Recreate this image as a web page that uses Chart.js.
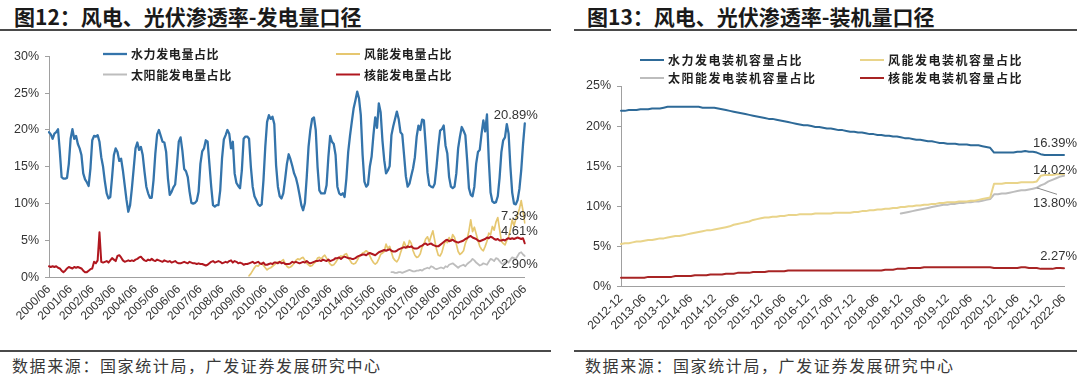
<!DOCTYPE html>
<html><head><meta charset="utf-8">
<script src="https://cdn.jsdelivr.net/npm/chart.js@4.4.1/dist/chart.umd.min.js"></script>
<style>
html,body{margin:0;padding:0;background:#fff;}
body{width:1080px;height:377px;position:relative;overflow:hidden;font-family:"Noto Sans CJK SC","Noto Sans",sans-serif;}
.title{position:absolute;top:2px;font-weight:bold;font-size:21px;line-height:28px;color:#1a1a1a;white-space:nowrap;}
.rule{position:absolute;height:2px;background:#4a4a4a;}
.src{position:absolute;top:355px;font-size:16px;line-height:20px;color:#383838;letter-spacing:1.6px;white-space:nowrap;}
canvas{position:absolute;top:36px;}
</style></head>
<body>
<div class="title" style="left:14px">图12：风电、光伏渗透率-发电量口径</div>
<div class="title" style="left:587px">图13：风电、光伏渗透率-装机量口径</div>
<div class="rule" style="left:0;width:551px;top:29px"></div>
<div class="rule" style="left:574px;width:503px;top:29px"></div>
<canvas id="c1" width="540" height="314" style="left:0"></canvas>
<canvas id="c2" width="540" height="314" style="left:540px"></canvas>
<div class="rule" style="left:0;width:551px;top:350px"></div>
<div class="rule" style="left:574px;width:503px;top:350px"></div>
<div class="src" style="left:12px">数据来源：国家统计局，广发证券发展研究中心</div>
<div class="src" style="left:585px">数据来源：国家统计局，广发证券发展研究中心</div>
<script>
// ---------------- Figure 12 data (monthly, 2000/06 - 2022/06) ----------------
const genStart = [2000, 6];
const genCount = 265;
const genTickLabels = ['2000/06','2001/06','2002/06','2003/06','2004/06','2005/06','2006/06','2007/06','2008/06','2009/06','2010/06','2011/06','2012/06','2013/06','2014/06','2015/06','2016/06','2017/06','2018/06','2019/06','2020/06','2021/06','2022/06'];
const genNames = ['水力发电量占比','风能发电量占比','太阳能发电量占比','核能发电量占比'];
const hydroGen = [
19.7,19.4,18.8,19.5,19.7,20.1,17.1,13.6,13.4,13.4,13.5,15.4,
18.8,20.1,18.8,19.2,18.1,17.5,16.6,14.1,13.3,12.9,12.4,14.8,
18.6,19.2,19.1,19.3,18.4,16.3,15.0,13.0,11.4,10.7,10.9,13.6,
16.6,17.5,17.0,15.8,16.1,14.5,12.5,10.5,8.9,9.8,12.1,14.8,
17.5,18.3,17.3,17.7,16.6,14.3,12.3,11.4,10.8,10.8,13.2,16.8,
19.4,20.0,19.2,18.4,18.3,17.0,13.4,11.2,11.6,12.2,12.6,15.3,
18.4,19.0,17.2,14.7,14.4,13.6,11.6,10.1,10.0,10.1,10.4,11.6,
15.4,17.1,17.5,18.6,18.4,15.4,12.3,9.8,9.6,9.8,9.8,11.8,
16.1,18.7,19.3,20.0,19.5,17.5,18.4,14.1,12.8,12.4,12.1,14.5,
18.8,19.1,19.1,18.8,15.0,12.3,11.0,10.5,9.9,9.7,9.9,13.2,
17.7,21.1,22.0,21.5,21.8,20.8,15.2,12.3,11.0,10.7,11.4,13.3,
15.4,16.7,16.0,15.1,14.1,13.5,12.5,11.2,9.8,9.1,10.1,13.6,
17.7,20.0,21.5,21.7,20.0,15.0,11.8,11.4,11.4,11.4,12.5,16.3,
19.2,18.4,18.1,16.6,12.3,11.4,11.2,11.4,10.9,13.4,17.0,19.2,
21.1,22.9,24.0,25.2,24.3,22.0,16.6,13.0,12.3,12.6,15.0,16.4,
19.3,21.7,20.3,23.6,22.4,18.6,15.9,14.1,14.5,15.1,19.3,20.5,
21.5,22.5,21.5,19.7,19.4,16.6,13.7,12.3,12.7,13.8,14.8,16.3,
19.1,20.6,20.0,21.4,21.3,17.9,14.2,12.5,12.3,12.2,12.7,15.0,
17.7,19.9,20.1,20.6,17.9,16.8,13.6,12.3,12.1,12.3,14.1,17.5,
19.1,20.4,19.9,19.3,15.9,12.1,11.2,11.0,12.3,15.4,17.0,17.3,
19.5,21.3,19.8,22.1,16.0,11.5,10.3,10.1,10.2,11.0,13.5,17.0,
18.6,19.0,20.8,19.5,15.0,11.5,10.0,9.9,10.5,12.0,14.5,18.0,20.89];
const nuclearGen = [
1.5,1.4,1.5,1.4,1.5,1.3,1.2,0.9,0.7,0.9,1.2,1.4,
1.3,1.2,1.4,1.3,1.4,1.3,1.2,0.9,0.7,0.7,0.9,1.1,
1.2,2.1,1.9,2.3,6.1,2.1,2.0,2.1,2.2,2.0,2.3,2.6,
2.4,2.2,2.9,3.0,2.7,2.3,2.1,2.2,2.3,2.2,2.3,2.2,
2.4,2.5,2.7,2.8,2.5,2.3,2.2,2.4,2.3,2.5,2.3,2.2,
2.4,2.3,2.2,2.1,2.3,2.2,2.1,2.2,2.0,2.1,2.2,2.0,
1.9,1.9,2.0,2.1,2.0,1.9,2.1,2.0,1.9,1.9,1.8,1.9,
1.8,1.8,1.7,1.6,1.7,1.9,2.1,2.2,2.0,2.1,2.2,2.1,
1.9,2.0,2.1,2.0,2.2,2.3,2.0,2.2,2.1,1.9,2.0,1.9,
1.7,1.8,1.8,1.9,2.0,2.1,1.9,2.0,2.1,1.9,1.8,2.0,
1.7,1.7,1.8,1.9,1.8,2.0,2.0,1.9,2.1,1.9,2.0,1.8,
1.8,1.8,1.9,2.1,2.0,2.1,2.0,1.9,2.0,2.1,2.0,2.2,
2.0,1.9,2.0,2.1,2.2,2.2,2.3,2.2,2.4,2.3,2.2,2.4,
2.2,2.3,2.4,2.6,2.6,2.7,2.5,2.7,2.8,2.7,2.6,2.6,
2.5,2.5,2.6,2.8,2.9,3.0,3.1,3.1,3.0,3.2,3.3,3.2,
3.1,3.0,3.2,3.4,3.5,3.6,3.7,3.6,3.7,3.8,3.6,3.5,
3.5,3.6,3.8,3.9,4.0,4.1,4.0,4.2,4.1,4.2,4.0,3.9,
3.9,4.0,4.2,4.3,4.5,4.6,4.4,4.5,4.6,4.4,4.3,4.2,
4.2,4.4,4.6,4.8,5.0,5.1,4.9,5.0,5.1,4.9,4.8,4.7,
4.8,4.9,5.0,5.2,5.3,5.5,5.6,5.4,5.3,5.2,5.0,4.9,
5.0,5.1,5.2,5.4,5.3,5.5,5.4,5.2,5.1,5.2,5.0,5.0,
5.1,5.0,5.2,5.3,5.2,5.3,5.2,5.3,5.4,5.3,5.2,5.3,4.61];
const windGenStart = 111;   // index of first wind value (2009/09)
const windGen = [
0.2,0.5,0.9,1.3,1.6,1.5,1.8,1.9,1.6,
1.3,1.0,1.2,1.3,1.5,1.7,1.9,2.1,2.0,2.2,2.4,1.9,
1.5,1.3,1.4,1.6,1.9,2.3,2.5,2.4,2.6,2.7,2.3,1.9,
1.7,1.5,1.6,1.9,2.1,2.6,2.7,2.5,2.8,3.0,2.6,2.2,
1.8,1.6,1.7,2.0,2.4,2.7,2.9,2.8,3.1,3.2,2.7,2.3,
1.9,1.8,1.9,2.3,2.8,3.0,3.3,3.4,3.6,3.4,2.9,2.4,
2.0,1.8,2.0,2.5,3.1,3.3,3.5,4.5,3.9,4.2,3.4,2.6,
2.3,2.1,2.5,3.3,4.0,4.8,4.2,4.0,5.0,4.6,3.6,3.0,
2.7,2.8,3.2,4.1,4.5,5.2,5.5,4.8,5.6,6.3,5.0,3.8,
3.0,2.9,3.4,4.3,5.0,4.7,5.4,4.9,5.8,5.4,4.5,3.5,
3.1,3.3,3.6,4.6,5.2,6.3,7.8,6.2,6.8,5.9,5.0,4.2,
3.8,3.6,4.2,4.9,6.0,5.8,6.9,6.4,7.5,8.1,6.5,4.9,
4.6,4.4,5.0,5.5,6.5,7.8,7.0,7.9,8.5,9.3,10.4,9.0,7.39];
const solarGenStart = 190;  // index of first solar value (2016/04)
const solarGen = [
0.7,0.7,0.6,0.6,0.7,0.7,0.6,0.7,0.8,0.9,1.0,0.9,
0.8,0.8,0.9,0.9,1.0,0.9,1.1,1.2,1.3,1.2,1.5,1.4,
1.2,1.1,1.2,1.3,1.3,1.2,1.5,1.4,1.7,1.8,1.9,1.7,
1.5,1.3,1.5,1.6,1.7,1.5,1.8,2.0,2.2,2.5,2.3,2.0,
1.8,1.6,1.7,1.9,1.8,1.7,2.1,2.5,2.4,2.2,2.6,2.5,
2.2,1.9,1.8,2.0,2.2,2.0,2.4,2.7,2.6,2.5,2.9,3.3,3.4,3.1,2.90];

// ---------------- Figure 13 data (monthly, 2012-12 - 2022-06) ----------------
const capStart = [2012, 12];
const capCount = 115;
const capTickLabels = ['2012-12','2013-06','2013-12','2014-06','2014-12','2015-06','2015-12','2016-06','2016-12','2017-06','2017-12','2018-06','2018-12','2019-06','2019-12','2020-06','2020-12','2021-06','2021-12','2022-06'];
const capNames = ['水力发电装机容量占比','风能发电装机容量占比','太阳能发电装机容量占比','核能发电装机容量占比'];
const hydroCap = [
21.9,21.9,22.0,22.0,22.0,22.1,22.1,22.1,22.2,22.2,22.2,22.3,
22.4,22.4,22.4,22.4,22.4,22.4,22.4,22.4,22.4,22.3,22.3,22.3,
22.3,22.2,22.1,22.0,21.9,21.8,21.7,21.6,21.5,21.4,21.3,21.2,
21.1,21.0,20.9,20.9,20.8,20.7,20.6,20.5,20.4,20.3,20.2,20.1,
20.1,20.0,19.9,19.9,19.8,19.7,19.7,19.6,19.5,19.5,19.4,19.3,
19.3,19.2,19.2,19.1,19.0,19.0,18.9,18.9,18.8,18.8,18.7,18.7,
18.6,18.5,18.5,18.4,18.3,18.3,18.2,18.1,18.1,18.0,17.9,17.9,
17.8,17.8,17.8,17.7,17.7,17.7,17.6,17.6,17.6,17.5,17.4,17.3,
16.7,16.7,16.7,16.7,16.7,16.7,16.8,16.8,16.9,16.8,16.8,16.7,
16.5,16.4,16.4,16.4,16.4,16.4,16.39];
const windCap = [
5.3,5.4,5.4,5.5,5.6,5.6,5.7,5.8,5.8,5.9,6.0,6.0,
6.1,6.2,6.3,6.3,6.4,6.5,6.6,6.7,6.8,6.9,7.0,7.0,
7.1,7.2,7.3,7.4,7.5,7.7,7.8,7.9,8.0,8.1,8.3,8.4,
8.5,8.6,8.6,8.7,8.7,8.8,8.8,8.9,8.9,8.9,9.0,9.0,
9.0,9.0,9.1,9.1,9.1,9.1,9.1,9.2,9.2,9.2,9.2,9.2,
9.3,9.3,9.4,9.4,9.5,9.5,9.6,9.6,9.7,9.7,9.8,9.8,
9.9,9.9,10.0,10.0,10.1,10.1,10.2,10.2,10.3,10.3,10.4,10.4,
10.5,10.5,10.5,10.6,10.6,10.6,10.7,10.7,10.8,10.9,11.0,11.1,
12.8,12.8,12.8,12.9,12.9,12.9,12.9,13.0,13.0,13.0,13.0,13.1,
13.8,13.9,13.9,13.9,14.0,14.0,14.02];
const solarCapStart = 72;   // 2018-12
const solarCap = [
9.1,9.2,9.3,9.4,9.5,9.6,9.7,9.8,9.9,10.0,10.1,10.2,
10.2,10.3,10.3,10.4,10.4,10.5,10.5,10.6,10.6,10.7,10.8,10.9,
11.5,11.5,11.6,11.6,11.7,11.8,11.9,12.0,12.0,12.1,12.2,12.3,
12.6,12.8,13.1,13.3,13.5,13.7,13.80];
const nuclearCap = [
1.1,1.1,1.1,1.1,1.1,1.1,1.1,1.2,1.2,1.2,1.2,1.2,
1.2,1.2,1.3,1.3,1.3,1.3,1.3,1.4,1.4,1.4,1.4,1.5,
1.5,1.5,1.5,1.6,1.6,1.6,1.7,1.7,1.7,1.7,1.8,1.8,
1.8,1.8,1.9,1.9,1.9,1.9,1.9,2.0,2.0,2.0,2.0,2.0,
2.0,2.0,2.0,2.0,2.0,2.0,2.0,2.0,2.0,2.0,2.0,2.0,
2.0,2.0,2.0,2.0,2.0,2.0,2.0,2.0,2.1,2.1,2.1,2.2,
2.2,2.2,2.3,2.3,2.3,2.3,2.4,2.4,2.4,2.4,2.4,2.4,
2.4,2.4,2.4,2.4,2.4,2.4,2.4,2.4,2.4,2.4,2.4,2.4,
2.3,2.3,2.3,2.3,2.3,2.3,2.3,2.4,2.4,2.3,2.3,2.3,
2.2,2.2,2.2,2.2,2.3,2.3,2.27];

// ---------------- helpers ----------------
function monthCats(start, n, sep) {
  const out = []; let y = start[0], m = start[1];
  for (let i = 0; i < n; i++) {
    out.push(y + sep + (m < 10 ? '0' + m : '' + m));
    m++; if (m > 12) { m = 1; y++; }
  }
  return out;
}
function padFront(arr, start) { return new Array(start).fill(null).concat(arr); }

const latin = '"Liberation Sans", Arial, sans-serif';
Chart.defaults.font.family = latin;
Chart.defaults.color = '#333';

const legendPlugin = {
  id: 'boxLegend',
  afterDraw(chart, args, o) {
    const ctx = chart.ctx; ctx.save();
    ctx.font = o.font; ctx.letterSpacing = o.spacing;
    ctx.textBaseline = 'middle'; ctx.textAlign = 'left';
    o.items.forEach(it => {
      const ds = chart.data.datasets[it.ds];
      ctx.strokeStyle = ds.borderColor; ctx.lineWidth = Math.max(ds.borderWidth, 2);
      ctx.beginPath(); ctx.moveTo(it.x, it.y); ctx.lineTo(it.x + o.lineLen, it.y); ctx.stroke();
      ctx.fillStyle = '#1e1e1e';
      ctx.fillText(ds.label, it.x + o.lineLen + 4, it.y + 0.5);
    });
    ctx.restore();
  }
};
const endLabelPlugin = {
  id: 'endLabels',
  afterDatasetsDraw(chart, args, o) {
    const ctx = chart.ctx; ctx.save();
    ctx.font = o.font; ctx.fillStyle = '#333'; ctx.textAlign = 'right'; ctx.textBaseline = 'middle';
    o.items.forEach(it => {
      const pts = chart.getDatasetMeta(it.ds).data;
      const data = chart.data.datasets[it.ds].data;
      const p = pts[pts.length - 1];
      const tx = p.x + it.dx, ty = p.y + it.dy;
      ctx.fillText(data[data.length - 1].toFixed(2) + '%', tx, ty);
      if (it.leader != null) {
        const q = pts[it.leader];
        ctx.strokeStyle = '#8a8a8a'; ctx.lineWidth = 1;
        ctx.beginPath(); ctx.moveTo(q.x, q.y); ctx.lineTo(tx - 20, ty - 9); ctx.stroke();
      }
    });
    ctx.restore();
  }
};

function lineDs(label, data, color, width, order) {
  return { label, data, borderColor: color, backgroundColor: color, borderWidth: width,
           pointRadius: 0, tension: 0, fill: false, order, borderJoinStyle: 'round', borderCapStyle: 'round' };
}

function makeChart(id, cfg) {
  return new Chart(document.getElementById(id), {
    type: 'line',
    data: { labels: cfg.labels, datasets: cfg.datasets },
    options: {
      responsive: false, animation: false, events: [],
      layout: { padding: cfg.padding },
      plugins: { legend: { display: false }, tooltip: { enabled: false },
        boxLegend: cfg.legend, endLabels: cfg.endLabels },
      scales: {
        x: { type: 'category',
          grid: { display: false, drawTicks: false },
          border: { display: true, color: '#a0a0a0', width: 1 },
          ticks: { autoSkip: false, minRotation: 45, maxRotation: 45, padding: 5,
            font: { size: 12 }, color: '#333',
            callback(v) { const l = this.getLabelForValue(v); return cfg.ticks.includes(l) ? l : ''; } },
          afterFit(s) { s.height = cfg.xh; } },
        y: { min: 0, max: cfg.ymax,
          ticks: { stepSize: 5, padding: 6, font: { size: 12.5 }, color: '#333', callback: v => v + '%' },
          grid: { drawOnChartArea: false, drawTicks: true, tickLength: 4, color: '#a0a0a0' },
          border: { display: true, color: '#a0a0a0', width: 1 },
          afterFit(s) { s.width = cfg.yw; } }
      }
    },
    plugins: [legendPlugin, endLabelPlugin]
  });
}

makeChart('c1', {
  labels: monthCats(genStart, genCount, '/'),
  ticks: genTickLabels, ymax: 30, yw: 49, xh: 70,
  padding: { left: 0, right: 14, top: 20.3, bottom: 2.7 },
  datasets: [
    lineDs(genNames[0], hydroGen, '#3474ab', 2.3, 0),
    lineDs(genNames[1], padFront(windGen, windGenStart), '#e6c770', 1.7, 2),
    lineDs(genNames[2], padFront(solarGen, solarGenStart), '#bdbdbd', 1.8, 3),
    lineDs(genNames[3], nuclearGen, '#b0171f', 2, 1)
  ],
  legend: { font: 'bold 12px "Noto Sans CJK SC"', spacing: '0.6px', lineLen: 24,
    items: [ {ds:0,x:103,y:18}, {ds:1,x:336,y:18}, {ds:2,x:103,y:38.5}, {ds:3,x:336,y:38.5} ] },
  endLabels: { font: '13px ' + latin,
    items: [ {ds:0,dx:13,dy:-8}, {ds:1,dx:13,dy:-6}, {ds:3,dx:13,dy:-11.6}, {ds:2,dx:13,dy:8} ] }
});

makeChart('c2', {
  labels: monthCats(capStart, capCount, '-'),
  ticks: capTickLabels, ymax: 25, yw: 81, xh: 60,
  padding: { left: 0, right: 16, top: 50, bottom: 3.5 },
  datasets: [
    lineDs(capNames[0], hydroCap, '#2e6a98', 2, 0),
    lineDs(capNames[1], windCap, '#e9d48a', 2, 2),
    lineDs(capNames[2], padFront(solarCap, solarCapStart), '#bdbdbd', 2, 3),
    lineDs(capNames[3], nuclearCap, '#a82424', 2, 1)
  ],
  legend: { font: 'bold 12px "Noto Sans CJK SC"', spacing: '1.5px', lineLen: 24,
    items: [ {ds:0,x:100,y:24}, {ds:1,x:320,y:24}, {ds:2,x:100,y:42}, {ds:3,x:320,y:42} ] },
  endLabels: { font: '13px ' + latin,
    items: [ {ds:0,dx:13,dy:-12}, {ds:1,dx:13,dy:-4}, {ds:2,dx:13,dy:27.5,leader:107}, {ds:3,dx:13,dy:-12} ] }
});
</script>
</body></html>
